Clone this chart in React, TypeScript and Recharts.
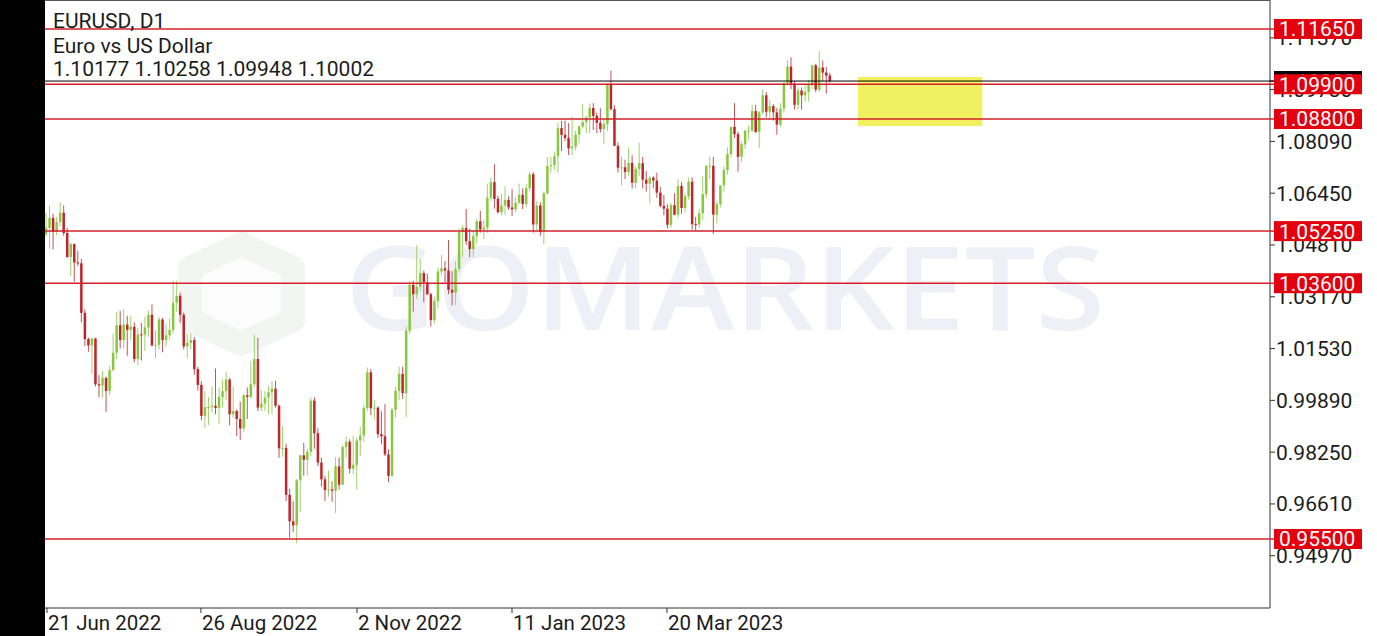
import React from "react";
import { ComposedChart, Bar, XAxis, YAxis, ReferenceLine, ReferenceArea } from "recharts";

// ---- Daily EURUSD candles (bar index 0 = 21 Jun 2022, last = current bar) ----
const opens = [
  1.0515, 1.0535, 1.0567, 1.0522, 1.0554, 1.0583, 1.0519, 1.0443, 1.0484, 1.0426,
  1.0423, 1.0266, 1.0183, 1.0163, 1.0185, 1.0040, 1.0036, 1.0060, 1.0019, 1.0085,
  1.0140, 1.0227, 1.0180, 1.0229, 1.0212, 1.0222, 1.0120, 1.0198, 1.0197, 1.0220,
  1.0260, 1.0163, 1.0165, 1.0245, 1.0180, 1.0195, 1.0212, 1.0298, 1.0320, 1.0260,
  1.0160, 1.0171, 1.0180, 1.0088, 1.0038, 0.9940, 0.9967, 0.9968, 0.9972, 0.9965,
  1.0000, 1.0018, 1.0055, 0.9945, 0.9955, 0.9930, 0.9900, 1.0005, 1.0000, 1.0040,
  1.0120, 0.9966, 0.9979, 0.9998, 1.0015, 1.0026, 0.9972, 0.9837, 0.9838, 0.9690,
  0.9606, 0.9593, 0.9736, 0.9815, 0.9801, 0.9826, 0.9988, 0.9885, 0.9792, 0.9739,
  0.9705, 0.9707, 0.9703, 0.9780, 0.9722, 0.9841, 0.9858, 0.9773, 0.9785, 0.9862,
  0.9878, 0.9965, 1.0078, 0.9964, 0.9966, 0.9882, 0.9875, 0.9818, 0.9750, 0.9959,
  1.0019, 1.0073, 1.0012, 1.0210, 1.0355, 1.0325, 1.0348, 1.0392, 1.0363, 1.0325,
  1.0243, 1.0303, 1.0397, 1.0407, 1.0400, 1.0339, 1.0330, 1.0405, 1.0522, 1.0535,
  1.0493, 1.0468, 1.0509, 1.0556, 1.0530, 1.0536, 1.0631, 1.0680, 1.0627, 1.0585,
  1.0606, 1.0624, 1.0600, 1.0594, 1.0615, 1.0640, 1.0611, 1.0661, 1.0705, 1.0546,
  1.0606, 1.0522, 1.0645, 1.0731, 1.0734, 1.0762, 1.0851, 1.0830, 1.0820, 1.0787,
  1.0793, 1.0830, 1.0856, 1.0870, 1.0885, 1.0915, 1.0890, 1.0868, 1.0848, 1.0863,
  1.0989, 1.0911, 1.0795, 1.0726, 1.0727, 1.0712, 1.0741, 1.0678, 1.0722, 1.0740,
  1.0688, 1.0675, 1.0694, 1.0685, 1.0647, 1.0605, 1.0596, 1.0545, 1.0607, 1.0577,
  1.0668, 1.0598, 1.0635, 1.0681, 1.0547, 1.0546, 1.0581, 1.0642, 1.0731, 1.0732,
  1.0577, 1.0610, 1.0670, 1.0718, 1.0769, 1.0855, 1.0832, 1.0760, 1.0800, 1.0843,
  1.0843, 1.0905, 1.0839, 1.0901, 1.0955, 1.0903, 1.0921, 1.0901, 1.0862, 1.0913,
  1.0994, 1.1046, 1.0992, 1.0925, 1.0970, 1.0955, 1.0966, 1.0990, 1.1050, 1.0973,
  1.1043, 1.1027, 1.10177,
];

const highs = [
  1.0583, 1.0606, 1.0580, 1.0570, 1.0615, 1.0606, 1.0535, 1.0489, 1.0486, 1.0463,
  1.0437, 1.0277, 1.0188, 1.0186, 1.0186, 1.0069, 1.0082, 1.0064, 1.0097, 1.0200,
  1.0269, 1.0273, 1.0278, 1.0257, 1.0258, 1.0236, 1.0218, 1.0234, 1.0254, 1.0274,
  1.0293, 1.0210, 1.0253, 1.0250, 1.0232, 1.0248, 1.0368, 1.0368, 1.0330, 1.0267,
  1.0200, 1.0202, 1.0190, 1.0095, 1.0050, 1.0018, 0.9999, 1.0033, 1.0090, 1.0030,
  1.0055, 1.0079, 1.0060, 1.0033, 0.9960, 0.9985, 1.0010, 1.0030, 1.0113, 1.0197,
  1.0187, 1.0020, 1.0018, 1.0036, 1.0050, 1.0051, 0.9976, 0.9907, 0.9852, 0.9709,
  0.9670, 0.9740, 0.9816, 0.9854, 0.9835, 0.9999, 0.9999, 0.9901, 0.9807, 0.9749,
  0.9767, 0.9733, 0.9809, 0.9808, 0.9847, 0.9875, 0.9866, 0.9876, 0.9871, 0.9905,
  0.9976, 1.0093, 1.0088, 0.9990, 0.9970, 0.9954, 0.9977, 0.9834, 0.9965, 1.0033,
  1.0096, 1.0095, 1.0223, 1.0365, 1.0368, 1.0481, 1.0435, 1.0400, 1.0390, 1.0330,
  1.0317, 1.0410, 1.0449, 1.0430, 1.0497, 1.0398, 1.0429, 1.0533, 1.0545, 1.0595,
  1.0532, 1.0528, 1.0565, 1.0589, 1.0560, 1.0673, 1.0695, 1.0737, 1.0637, 1.0642,
  1.0667, 1.0635, 1.0659, 1.0632, 1.0675, 1.0660, 1.0675, 1.0713, 1.0712, 1.0620,
  1.0617, 1.0650, 1.0760, 1.0760, 1.0777, 1.0868, 1.0874, 1.0875, 1.0867, 1.0887,
  1.0843, 1.0860, 1.0927, 1.0890, 1.0929, 1.0930, 1.0900, 1.0914, 1.0877, 1.0993,
  1.1033, 1.0923, 1.0805, 1.0760, 1.0751, 1.0790, 1.0765, 1.0730, 1.0805, 1.0760,
  1.0715, 1.0700, 1.0700, 1.0710, 1.0665, 1.0640, 1.0610, 1.0615, 1.0645, 1.0690,
  1.0680, 1.0645, 1.0695, 1.0695, 1.0570, 1.0595, 1.0700, 1.0735, 1.0760, 1.0760,
  1.0620, 1.0670, 1.0730, 1.0790, 1.0855, 1.0930, 1.0840, 1.0810, 1.0845, 1.0860,
  1.0925, 1.0925, 1.0905, 1.0973, 1.0965, 1.0940, 1.0927, 1.0915, 1.0930, 1.0998,
  1.1066, 1.1075, 1.1000, 1.0980, 1.0980, 1.0990, 1.1005, 1.1050, 1.1055, 1.1095,
  1.1065, 1.1045, 1.10258,
];

const lows = [
  1.0508, 1.0469, 1.0467, 1.0512, 1.0540, 1.0510, 1.0440, 1.0382, 1.0365, 1.0415,
  1.0236, 1.0161, 1.0143, 1.0072, 1.0033, 0.9999, 0.9998, 0.9952, 1.0006, 1.0081,
  1.0120, 1.0153, 1.0153, 1.0130, 1.0180, 1.0109, 1.0100, 1.0115, 1.0146, 1.0190,
  1.0160, 1.0122, 1.0150, 1.0141, 1.0160, 1.0181, 1.0202, 1.0270, 1.0235, 1.0150,
  1.0123, 1.0150, 1.0070, 1.0020, 0.9926, 0.9902, 0.9910, 0.9950, 0.9945, 0.9914,
  0.9966, 0.9990, 0.9910, 0.9935, 0.9876, 0.9864, 0.9890, 0.9930, 0.9995, 1.0030,
  0.9955, 0.9955, 0.9955, 0.9945, 0.9945, 0.9966, 0.9807, 0.9810, 0.9670, 0.9554,
  0.9571, 0.9536, 0.9635, 0.9750, 0.9751, 0.9813, 0.9836, 0.9781, 0.9716, 0.9670,
  0.9684, 0.9668, 0.9632, 0.9706, 0.9720, 0.9807, 0.9758, 0.9756, 0.9706, 0.9814,
  0.9858, 0.9955, 0.9942, 0.9929, 0.9870, 0.9850, 0.9812, 0.9730, 0.9746, 0.9935,
  0.9990, 0.9994, 0.9935, 1.0198, 1.0270, 1.0310, 1.0335, 1.0300, 1.0322, 1.0223,
  1.0232, 1.0280, 1.0385, 1.0363, 1.0325, 1.0290, 1.0290, 1.0395, 1.0443, 1.0481,
  1.0442, 1.0443, 1.0485, 1.0520, 1.0500, 1.0520, 1.0620, 1.0596, 1.0580, 1.0575,
  1.0575, 1.0592, 1.0573, 1.0585, 1.0610, 1.0595, 1.0600, 1.0652, 1.0520, 1.0527,
  1.0510, 1.0483, 1.0640, 1.0710, 1.0719, 1.0710, 1.0778, 1.0810, 1.0766, 1.0765,
  1.0780, 1.0803, 1.0850, 1.0835, 1.0835, 1.0845, 1.0835, 1.0837, 1.0800, 1.0842,
  1.0907, 1.0795, 1.0710, 1.0670, 1.0690, 1.0700, 1.0660, 1.0660, 1.0700, 1.0660,
  1.0650, 1.0612, 1.0660, 1.0630, 1.0600, 1.0575, 1.0533, 1.0535, 1.0575, 1.0565,
  1.0580, 1.0585, 1.0625, 1.0530, 1.0525, 1.0535, 1.0560, 1.0630, 1.0690, 1.0516,
  1.0550, 1.0600, 1.0650, 1.0705, 1.0760, 1.0820, 1.0713, 1.0745, 1.0785, 1.0815,
  1.0840, 1.0835, 1.0788, 1.0895, 1.0885, 1.0880, 1.0875, 1.0830, 1.0855, 1.0900,
  1.0990, 1.0975, 1.0910, 1.0910, 1.0910, 1.0935, 1.0935, 1.0975, 1.0965, 1.0965,
  1.1000, 1.0960, 1.09948,
];

const closes = [
  1.0535, 1.0567, 1.0522, 1.0554, 1.0583, 1.0519, 1.0443, 1.0484, 1.0426, 1.0423,
  1.0266, 1.0183, 1.0163, 1.0185, 1.0040, 1.0036, 1.0060, 1.0019, 1.0085, 1.0140,
  1.0227, 1.0180, 1.0229, 1.0212, 1.0222, 1.0120, 1.0198, 1.0197, 1.0220, 1.0260,
  1.0163, 1.0165, 1.0245, 1.0180, 1.0195, 1.0212, 1.0298, 1.0320, 1.0260, 1.0160,
  1.0171, 1.0180, 1.0088, 1.0038, 0.9940, 0.9967, 0.9968, 0.9972, 0.9965, 1.0000,
  1.0018, 1.0055, 0.9945, 0.9955, 0.9930, 0.9900, 1.0005, 1.0000, 1.0040, 1.0120,
  0.9966, 0.9979, 0.9998, 1.0015, 1.0026, 0.9972, 0.9837, 0.9838, 0.9690, 0.9606,
  0.9593, 0.9736, 0.9815, 0.9801, 0.9826, 0.9988, 0.9885, 0.9792, 0.9739, 0.9705,
  0.9707, 0.9703, 0.9780, 0.9722, 0.9841, 0.9858, 0.9773, 0.9785, 0.9862, 0.9878,
  0.9965, 1.0078, 0.9964, 0.9966, 0.9882, 0.9875, 0.9818, 0.9750, 0.9959, 1.0019,
  1.0073, 1.0012, 1.0210, 1.0355, 1.0325, 1.0348, 1.0392, 1.0363, 1.0325, 1.0243,
  1.0303, 1.0397, 1.0407, 1.0400, 1.0339, 1.0330, 1.0405, 1.0522, 1.0535, 1.0493,
  1.0468, 1.0509, 1.0556, 1.0530, 1.0536, 1.0631, 1.0680, 1.0627, 1.0585, 1.0606,
  1.0624, 1.0600, 1.0594, 1.0615, 1.0640, 1.0611, 1.0661, 1.0705, 1.0546, 1.0606,
  1.0522, 1.0645, 1.0731, 1.0734, 1.0762, 1.0851, 1.0830, 1.0820, 1.0787, 1.0793,
  1.0830, 1.0856, 1.0870, 1.0885, 1.0915, 1.0890, 1.0868, 1.0848, 1.0863, 1.0989,
  1.0911, 1.0795, 1.0726, 1.0727, 1.0712, 1.0741, 1.0678, 1.0722, 1.0740, 1.0688,
  1.0675, 1.0694, 1.0685, 1.0647, 1.0605, 1.0596, 1.0545, 1.0607, 1.0577, 1.0668,
  1.0598, 1.0635, 1.0681, 1.0547, 1.0546, 1.0581, 1.0642, 1.0731, 1.0732, 1.0577,
  1.0610, 1.0670, 1.0718, 1.0769, 1.0855, 1.0832, 1.0760, 1.0800, 1.0843, 1.0843,
  1.0905, 1.0839, 1.0901, 1.0955, 1.0903, 1.0921, 1.0901, 1.0862, 1.0913, 1.0994,
  1.1046, 1.0992, 1.0925, 1.0970, 1.0955, 1.0966, 1.0990, 1.1050, 1.0973, 1.1043,
  1.1027, 1.1017, 1.10002,
];

// ---- Axis ticks / labels ----
const dateTickPos = [0.2, 43.8, 88.0, 131.9, 175.8];
const dateLabels = ["21 Jun 2022", "26 Aug 2022", "2 Nov 2022", "11 Jan 2023", "20 Mar 2023"];
const priceTicks = [1.1137, 1.0973, 1.0809, 1.0645, 1.0481, 1.0317, 1.0153, 0.9989, 0.9825, 0.9661, 0.9497];
const levelLines = [1.1165, 1.099, 1.088, 1.0525, 1.036, 0.955];
const zoneX = [229.9, 265.1];
const zoneY = [1.0858, 1.1013];
const xDomain = [-0.37, 346.6];
const yDomain = [0.93315, 1.12568];

const symbolText = "EURUSD, D1";
const descText = "Euro vs US Dollar";

const last = closes.length - 1;
const bidPrice = closes[last];
const ohlcText = [opens[last], highs[last], lows[last], closes[last]].map((v) => v.toFixed(5)).join(" ");

const data = opens.map((o, i) => ({
  i,
  open: o,
  high: highs[i],
  low: lows[i],
  close: closes[i],
  range: [lows[i], highs[i]],
}));

const W = 1377;
const H = 636;
const MARGIN_LEFT = 45;
const X_AXIS_H = 28;
const Y_AXIS_W = 107;

const FONT = "Roboto, 'Noto Sans', sans-serif";
const UP_BODY = "#86c93c";
const UP_WICK = "#9fd26a";
const DN_BODY = "#bf252c";
const DN_WICK = "#c0555b";
const LEVEL = "#d3202a";

function Candle(props: any) {
  const { x, y, width, height, payload } = props;
  if (!payload || x == null || y == null) return null;
  const { open, close, high, low } = payload;
  const top = Math.min(y, y + height);
  const h = Math.abs(height);
  const span = high - low || 1e-9;
  const py = (v: number) => top + ((high - v) / span) * h;
  const cx = x + width / 2;
  const up = close >= open;
  const bTop = py(Math.max(open, close));
  const bBot = py(Math.min(open, close));
  return (
    <g>
      <line x1={cx} x2={cx} y1={top} y2={top + h} stroke={up ? UP_WICK : DN_WICK} strokeWidth={1} />
      <rect x={cx - 1.25} y={bTop} width={2.5} height={Math.max(1, bBot - bTop)} fill={up ? UP_BODY : DN_BODY} />
    </g>
  );
}

function DateTick(props: any) {
  const { x, y, payload } = props;
  const idx = dateTickPos.indexOf(payload.value);
  return (
    <text x={x + 1} y={y + 16} fontSize={20.5} fontFamily={FONT} fill="#1c1c1c" textAnchor="start">
      {idx >= 0 ? dateLabels[idx] : ""}
    </text>
  );
}

function PriceTick(props: any) {
  const { x, y, payload } = props;
  return (
    <text x={x} y={y + 7.5} fontSize={21} fontFamily={FONT} fill="#1c1c1c" textAnchor="start">
      {Number(payload.value).toFixed(5)}
    </text>
  );
}

function PriceTag(props: any) {
  const { viewBox, text, fill, lineColor } = props;
  if (!viewBox) return null;
  const xr = viewBox.x + viewBox.width;
  const yy = viewBox.y;
  return (
    <g>
      <line x1={xr} x2={xr + 4} y1={yy} y2={yy} stroke={lineColor} strokeWidth={1.5} />
      <rect x={xr + 4} y={yy - 10} width={88} height={20} fill={fill} />
      <text x={xr + 9} y={yy + 7.5} fontSize={21} fontFamily={FONT} fill="#ffffff" textAnchor="start">
        {text}
      </text>
    </g>
  );
}

export default function App() {
  return (
    <div
      style={{
        position: "absolute",
        left: 0,
        top: 0,
        width: W,
        height: H,
        background: "#ffffff",
        overflow: "hidden",
      }}
    >
      {/* watermark */}
      <svg width={W} height={H} style={{ position: "absolute", left: 0, top: 0 }}>
        <polygon
          points="241,244 293,268 293,320 241,344 190,320 190,268"
          fill="#fbfcfb"
          stroke="#f1f6f3"
          strokeWidth={24}
          strokeLinejoin="round"
        />
        <text
          x={345}
          y={330}
          fontSize={116}
          fontFamily="'Open Sans', sans-serif"
          fontWeight={600}
          fill="#eff0f7"
          textLength={760}
          lengthAdjust="spacingAndGlyphs"
        >
          GOMARKETS
        </text>
      </svg>

      {/* main chart: axes + candles */}
      <div style={{ position: "absolute", left: 0, top: 0 }}>
        <ComposedChart width={W} height={H} data={data} margin={{ top: 0, right: 0, bottom: 0, left: MARGIN_LEFT }}>
          <XAxis
            dataKey="i"
            type="number"
            domain={xDomain}
            allowDataOverflow
            ticks={dateTickPos}
            interval={0}
            height={X_AXIS_H}
            axisLine={{ stroke: "#333333" }}
            tickLine={{ stroke: "#333333" }}
            tickSize={5}
            tickMargin={1}
            tick={<DateTick />}
          />
          <YAxis
            orientation="right"
            type="number"
            domain={yDomain}
            allowDataOverflow
            ticks={priceTicks}
            interval={0}
            width={Y_AXIS_W}
            axisLine={{ stroke: "#333333" }}
            tickLine={{ stroke: "#333333" }}
            tickSize={5}
            tickMargin={1}
            tick={<PriceTick />}
          />
          <Bar dataKey="range" barSize={3} isAnimationActive={false} shape={(p: any) => <Candle {...p} />} />
        </ComposedChart>
      </div>

      {/* overlay chart: same scales, level lines, price tags and zone drawn above the axis labels */}
      <div style={{ position: "absolute", left: 0, top: 0 }}>
        <ComposedChart
          width={W}
          height={H}
          data={data}
          margin={{ top: 0, right: Y_AXIS_W, bottom: X_AXIS_H, left: MARGIN_LEFT }}
        >
          <XAxis dataKey="i" type="number" domain={xDomain} allowDataOverflow hide />
          <YAxis type="number" domain={yDomain} allowDataOverflow hide />
          <ReferenceLine
            y={bidPrice}
            stroke="#000000"
            strokeWidth={1}
            label={<PriceTag text={bidPrice.toFixed(5)} fill="#000000" lineColor="#000000" />}
          />
          {levelLines.map((v) => (
            <ReferenceLine
              key={v}
              y={v}
              stroke={LEVEL}
              strokeWidth={1.5}
              label={<PriceTag text={v.toFixed(5)} fill="#e3000f" lineColor={LEVEL} />}
            />
          ))}
          <ReferenceArea
            x1={zoneX[0]}
            x2={zoneX[1]}
            y1={zoneY[0]}
            y2={zoneY[1]}
            fill="#e6e600"
            fillOpacity={0.62}
            stroke="none"
          />
        </ComposedChart>
      </div>

      {/* left black strip, top border and header text */}
      <svg width={W} height={H} style={{ position: "absolute", left: 0, top: 0, pointerEvents: "none" }}>
        <rect x={0} y={0} width={MARGIN_LEFT} height={H} fill="#000000" />
        <line x1={MARGIN_LEFT} x2={W - Y_AXIS_W} y1={0.5} y2={0.5} stroke="#555555" strokeWidth={1} />
        <text x={53} y={28} fontSize={21} fontFamily={FONT} fill="#1c1c1c">
          {symbolText}
        </text>
        <text x={53} y={53} fontSize={21} fontFamily={FONT} fill="#1c1c1c">
          {descText}
        </text>
        <text x={53} y={76} fontSize={21} fontFamily={FONT} fill="#1c1c1c">
          {ohlcText}
        </text>
      </svg>
    </div>
  );
}
